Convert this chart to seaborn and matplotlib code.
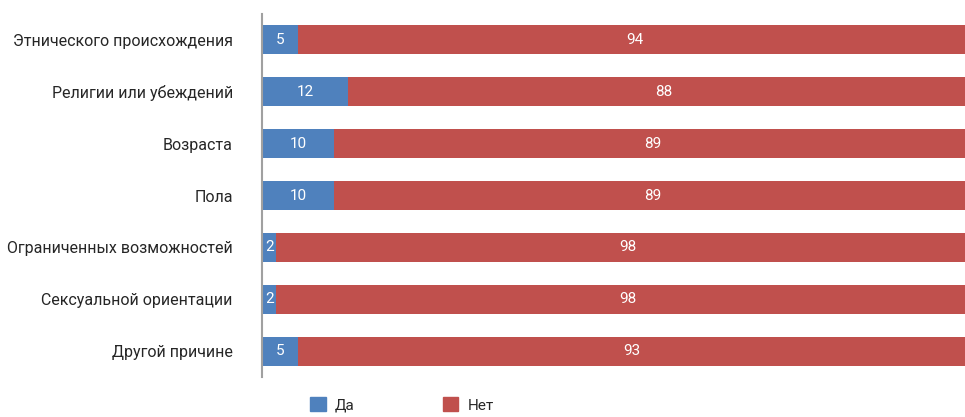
import matplotlib.pyplot as plt
import pandas as pd
import seaborn as sns
from matplotlib.patches import Patch

categories = [
    "Этнического происхождения",
    "Религии или убеждений",
    "Возраста",
    "Пола",
    "Ограниченных возможностей",
    "Сексуальной ориентации",
    "Другой причине",
]
yes_values = [5, 12, 10, 10, 2, 2, 5]
no_values = [94, 88, 89, 89, 98, 98, 93]

BLUE = "#4F81BD"
RED = "#C0504D"

df = pd.DataFrame({"category": categories, "yes": yes_values, "no": no_values})
df["total"] = df["yes"] + df["no"]

sns.set_style("white")
plt.rcParams["font.family"] = ["Roboto", "DejaVu Sans"]

fig = plt.figure(figsize=(9.65, 4.17), dpi=100)
ax = fig.add_axes([262 / 965, 40 / 417, 703 / 965, 363 / 417])

# red bar for the full length, blue share drawn over it
sns.barplot(data=df, y="category", x="total", color=RED, width=0.56,
            linewidth=0, saturation=1, ax=ax, orient="h")
sns.barplot(data=df, y="category", x="yes", color=BLUE, width=0.56,
            linewidth=0, saturation=1, ax=ax, orient="h")

for i, (y, n) in enumerate(zip(yes_values, no_values)):
    ax.text(max(y / 2, 1), i, str(y), color="white", ha="center", va="center", fontsize=11)
    ax.text(y + n / 2, i, str(n), color="white", ha="center", va="center", fontsize=11)

ax.set_xlim(0, 98)
ax.set_ylim(6.5, -0.5)
ax.set_xlabel("")
ax.set_ylabel("")
ax.set_xticks([])
ax.tick_params(axis="y", length=0, pad=21, labelsize=11.5)
for side in ["top", "right", "bottom"]:
    ax.spines[side].set_visible(False)
ax.spines["left"].set_color("#A0A0A0")
ax.spines["left"].set_linewidth(1.5)

handles = [Patch(color=BLUE, label="Да"), Patch(color=RED, label="Нет")]
fig.legend(handles=handles, loc="center", bbox_to_anchor=(402 / 965, 1 - 405 / 417),
           ncol=2, frameon=False, fontsize=11, handlelength=1.0, handleheight=1.0,
           columnspacing=5.8, handletextpad=0.6)

fig.savefig("out.png", dpi=100)
